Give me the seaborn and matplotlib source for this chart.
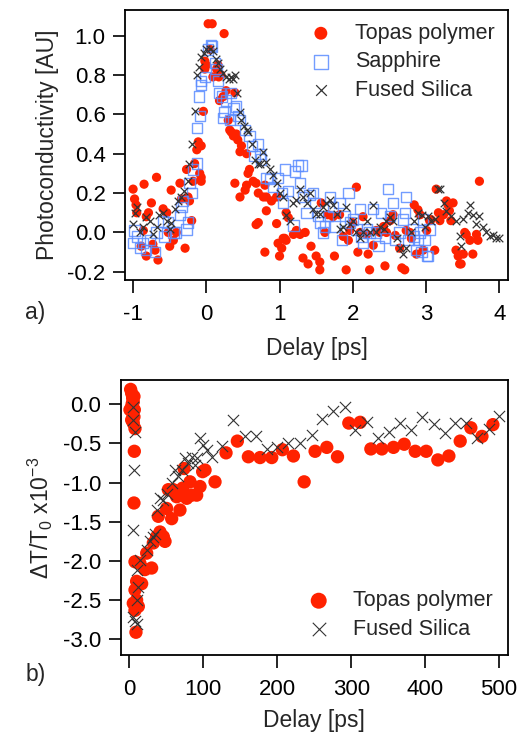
import matplotlib
matplotlib.use("Agg")
import matplotlib.pyplot as plt
import numpy as np
import pandas as pd
import seaborn as sns

# ---- panel a) data : photoconductivity vs delay [ps]
topas_a_x = [-1.00, -0.98, -0.96, -0.95, -0.89, -0.86, -0.85, -0.82, -0.82, -0.79, -0.75, -0.73, -0.70, -0.68,
             -0.66, -0.59, -0.54, -0.52, -0.50, -0.48, -0.45, -0.41, -0.36, -0.34, -0.29, -0.27, -0.25, -0.23,
             -0.20, -0.18, -0.16, -0.13, -0.11, -0.09, -0.07, -0.07, -0.07, -0.04, -0.02, -0.02, 0.00, 0.025,
             0.05, 0.08, 0.09, 0.14, 0.16, 0.18, 0.23, 0.243, 0.27, 0.30, 0.32, 0.34, 0.37, 0.39, 0.39, 0.41,
             0.43, 0.46, 0.46, 0.48, 0.53, 0.55, 0.55, 0.57, 0.59, 0.64, 0.68, 0.68, 0.71, 0.71, 0.78, 0.80,
             0.80, 0.82, 0.82, 0.89, 0.96, 0.96, 0.98, 1.00, 1.03, 1.05, 1.07, 1.09, 1.09, 1.12, 1.19, 1.23,
             1.25, 1.28, 1.32, 1.35, 1.39, 1.43, 1.50, 1.55, 1.55, 1.57, 1.62, 1.66, 1.73, 1.75, 1.82, 1.87,
             1.91, 1.94, 1.96, 2.00, 2.05, 2.07, 2.10, 2.14, 2.19, 2.21, 2.23, 2.28, 2.32, 2.37, 2.42, 2.44,
             2.46, 2.51, 2.55, 2.58, 2.64, 2.67, 2.71, 2.73, 2.78, 2.80, 2.84, 2.87, 2.89, 2.92, 2.96, 3.01,
             3.05, 3.07, 3.12, 3.14, 3.17, 3.19, 3.24, 3.28, 3.30, 3.32, 3.34, 3.37, 3.41, 3.44, 3.46, 3.48,
             3.51, 3.53, 3.55, 3.60, 3.64, 3.69, 3.71, 3.73, 0.17, 0.20]
topas_a_y = [0.22, 0.17, 0.14, 0.10, -0.07, 0.01, 0.245, 0.08, -0.12, 0.10, 0.15, -0.06, -0.09, 0.28,
             -0.14, 0.12, 0.10, 0.00, -0.07, 0.215, -0.04, 0.00, 0.25, 0.17, -0.08, 0.32, 0.18, 0.16,
             0.06, 0.26, 0.35, 0.42, 0.46, 0.30, 0.44, 0.28, 0.26, 0.615, 0.87, 0.83, 0.85, 1.06,
             0.93, 1.06, 0.79, 0.83, 0.85, 0.67, 0.69, 1.01, 0.72, 0.57, 0.52, 0.51, 0.49, 0.71, 0.25, 0.50,
             0.47, 0.41, 0.18, 0.44, 0.215, 0.40, 0.24, 0.30, 0.32, 0.26, 0.25, 0.04, 0.20, 0.05, 0.18, 0.24,
             -0.10, 0.11, 0.18, 0.16, 0.18, 0.045, -0.055, -0.12, -0.08, -0.03, -0.03, -0.04, 0.10, 0.075, -0.01, 0.01,
             0.00, -0.01, -0.13, 0.00, -0.16, -0.07, -0.12, -0.15, -0.19, 0.15, 0.00, 0.09, 0.08, -0.12, 0.09, -0.02,
             -0.19, -0.04, 0.01, 0.05, 0.23, -0.10, 0.00, 0.08, -0.01, -0.11, -0.19, -0.065, 0.01, 0.00, 0.03, -0.17,
             0.00, 0.06, 0.09, -0.015, -0.08, -0.18, -0.19, 0.01, 0.00, -0.03, 0.14, -0.11, 0.115, 0.09, -0.09, 0.01,
             0.06, 0.065, -0.09, 0.22, 0.10, 0.06, 0.09, 0.16, 0.14, 0.11, 0.06, 0.15, -0.09, -0.12, -0.16, -0.16,
             -0.11, 0.00, -0.01, -0.04, -0.11, -0.01, -0.04, 0.26, 0.79, 0.80]

sapphire_x = [-1.00, -0.98, -0.95, -0.91, -0.86, -0.82, -0.77, -0.70, -0.68, -0.59, -0.57, -0.52, -0.45, -0.41,
              -0.36, -0.34, -0.32, -0.27, -0.25, -0.23, -0.20, -0.18, -0.13, -0.13, -0.10, -0.09, -0.07, -0.07,
              -0.02, 0.025, 0.06, 0.08, 0.12, 0.14, 0.16, 0.18, 0.21, 0.23, 0.25, 0.27, 0.32, 0.34, 0.37, 0.41,
              0.43, 0.46, 0.53, 0.59, 0.62, 0.66, 0.71, 0.73, 0.75, 0.82, 0.87, 0.91, 0.98, 1.03, 1.05, 1.07,
              1.12, 1.19, 1.21, 1.25, 1.30, 1.28, 1.32, 1.37, 1.41, 1.46, 1.48, 1.53, 1.55, 1.59, 1.62, 1.66,
              1.69, 1.73, 1.75, 1.82, 1.85, 1.89, 1.94, 1.96, 2.00, 2.05, 2.10, 2.12, 2.14, 2.19, 2.23, 2.28,
              2.32, 2.35, 2.39, 2.44, 2.48, 2.51, 2.55, 2.58, 2.64, 2.69, 2.71, 2.73, 2.76, 2.82, 2.84, 2.87,
              2.89, 2.92, 2.94, 2.96, 2.98, 3.01, 3.03, 3.05]
sapphire_y = [-0.055, 0.01, -0.02, -0.08, -0.055, -0.09, -0.04, -0.10, 0.00, 0.055, -0.02, 0.05, 0.00, 0.00,
              0.09, 0.13, 0.16, 0.015, 0.05, 0.25, 0.20, 0.32, 0.35, 0.53, 0.69, 0.59, 0.77, 0.75,
              0.79, 0.93, 0.95, 0.945, 0.86, 0.83, 0.77, 0.71, 0.69, 0.58, 0.61, 0.67, 0.57, 0.71, 0.63, 0.64,
              0.59, 0.57, 0.52, 0.49, 0.44, 0.39, 0.45, 0.40, 0.37, 0.275, 0.27, 0.23, 0.275, 0.20, 0.15, 0.32,
              0.21, 0.035, 0.31, 0.34, 0.34, 0.25, 0.18, 0.10, 0.19, 0.20, 0.15, 0.085, 0.05, 0.00, 0.03, 0.085,
              0.18, 0.13, 0.03, 0.15, -0.04, 0.085, 0.20, 0.05, 0.065, 0.015, 0.12, -0.02, -0.055, 0.015, 0.00, 0.12,
              0.00, -0.07, 0.10, -0.03, 0.22, 0.085, 0.15, -0.04, 0.00, 0.065, 0.10, 0.18, -0.04, 0.015, -0.02, -0.09,
              -0.04, 0.00, -0.10, 0.065, -0.04, -0.12, -0.12, 0.015]

silica_a_x = [-1.00, -0.98, -0.95, -0.91, -0.86, -0.82, -0.77, -0.73, -0.68, -0.64, -0.59, -0.54, -0.50, -0.48,
              -0.43, -0.39, -0.34, -0.30, -0.25, -0.23, -0.20, -0.16, -0.13, -0.10, -0.07, -0.03, 0.00, 0.05,
              0.09, 0.13, 0.16, 0.19, 0.23, 0.27, 0.31, 0.34, 0.37, 0.39, 0.42, 0.46, 0.48, 0.52, 0.55, 0.57,
              0.62, 0.66, 0.71, 0.73, 0.78, 0.82, 0.87, 0.91, 0.96, 1.00, 1.05, 1.09, 1.14, 1.19, 1.23, 1.28,
              1.32, 1.37, 1.41, 1.46, 1.50, 1.55, 1.59, 1.64, 1.69, 1.73, 1.78, 1.82, 1.87, 1.91, 1.96, 2.00,
              2.05, 2.10, 2.14, 2.19, 2.23, 2.28, 2.32, 2.37, 2.42, 2.46, 2.51, 2.55, 2.60, 2.64, 2.69, 2.73,
              2.80, 2.84, 2.89, 2.94, 2.98, 3.03, 3.07, 3.12, 3.17, 3.19, 3.24, 3.28, 3.34, 3.41, 3.46, 3.48,
              3.51, 3.57, 3.60, 3.64, 3.69, 3.73, 3.78, 3.82, 3.87, 3.91, 3.96, 4.00]
silica_a_y = [0.045, 0.10, 0.13, 0.00, 0.03, 0.08, 0.06, -0.01, 0.03, 0.09, 0.10, 0.06, 0.015, 0.05,
              0.12, 0.16, 0.18, 0.21, 0.26, 0.35, 0.45, 0.615, 0.80, 0.84, 0.89, 0.91, 0.93, 0.93,
              0.92, 0.88, 0.86, 0.83, 0.81, 0.79, 0.78, 0.79, 0.78, 0.80, 0.71, 0.61, 0.57, 0.54, 0.52, 0.51,
              0.45, 0.37, 0.35, 0.35, 0.41, 0.36, 0.32, 0.29, 0.25, 0.20, 0.18, 0.09, 0.06, 0.15, 0.165, 0.22,
              0.18, 0.15, 0.20, 0.12, 0.095, 0.095, 0.13, 0.15, 0.165, 0.14, 0.095, 0.015, 0.03, 0.13, 0.045, 0.06,
              0.00, -0.03, 0.00, 0.06, 0.00, 0.14, 0.00, 0.03, 0.015, 0.06, 0.08, 0.06, -0.03, -0.08, -0.11, -0.08,
              0.00, 0.06, 0.10, 0.09, 0.03, 0.085, 0.06, 0.07, 0.22, 0.22, 0.15, 0.11, 0.085, 0.06, -0.02, -0.07,
              0.07, 0.10, 0.14, 0.09, 0.045, 0.085, 0.03, 0.00, -0.02, -0.015, -0.03, -0.03]

# ---- panel b) data : dT/T0 (x1e-3) vs delay [ps]
topas_b_x = [1.8, 3.2, 4.5, 5.4, 6.3, 4.0, 3.2, 6.8, 0.9, 4.5, 6.3, 3.2, 5.4, 7.7,
             6.8, 6.3, 7.7, 14.4, 9.9, 16.7, 7.7, 9.9, 5.4, 7.7, 12.2, 9.0,
             21.2, 23.5, 30.2, 32.5, 37.0, 39.2, 41.5, 46.0, 48.3, 50.5, 52.8, 57.3, 59.5, 64.0,
             68.5, 72.2, 74.0, 77.6, 82.1, 84.4, 91.1, 95.6, 99.2, 102.4, 115.9, 130.8, 146.1, 161.0,
             176.8, 192.6, 207.0, 221.9, 236.4, 251.2, 267.0, 281.5, 296.8, 312.1, 326.6, 341.5, 357.2,
             371.7, 386.6, 401.4, 417.2, 432.1, 447.4, 461.8, 476.8, 491.6]
topas_b_y = [0.19, 0.14, 0.08, 0.03, 0.10, 0.01, -0.03, -0.07, -0.07, -0.11, -0.16, -0.20, -0.24, -0.31,
             -0.60, -1.26, -2.01, -2.03, -2.26, -2.29, -2.37, -2.50, -2.54, -2.63, -2.58, -2.91,
             -2.11, -1.90, -2.09, -1.77, -1.69, -1.43, -1.63, -1.69, -1.75, -1.33, -1.09, -1.46, -1.09, -1.18,
             -1.35, -1.07, -0.82, -1.20, -0.99, -1.16, -1.16, -1.05, -0.86, -0.84, -0.99, -0.62, -0.47, -0.67,
             -0.68, -0.68, -0.58, -0.66, -0.99, -0.60, -0.55, -0.67, -0.24, -0.23, -0.57, -0.57, -0.55,
             -0.51, -0.60, -0.60, -0.71, -0.66, -0.47, -0.30, -0.41, -0.26]

silica_b_x = [4.5, 5.4, 7.7, 6.8, 5.4, 9.9, 12.2, 9.9, 5.4, 7.7, 10.8, 14.4,
              23.5, 27.9, 32.5, 34.7, 37.0, 41.5, 46.0, 50.5, 57.3, 61.8, 66.3, 70.8, 75.3, 79.8,
              84.4, 88.8, 91.1, 95.6, 99.2, 104.6, 111.4, 124.9, 140.7, 156.5, 171.4, 185.8, 199.4,
              215.2, 231.0, 246.7, 260.3, 276.0, 291.8, 305.4, 321.2, 335.6, 350.5, 366.3, 381.2,
              395.6, 411.4, 426.3, 440.7, 455.6, 470.0, 485.8, 500.2]
silica_b_y = [-0.03, -0.20, -0.35, -0.84, -1.60, -2.11, -2.33, -2.50, -2.71, -2.77, -2.80, -1.99,
              -1.86, -1.75, -1.69, -1.65, -1.35, -1.20, -1.22, -1.14, -1.01, -0.84, -0.92, -0.84, -0.69, -0.75,
              -0.67, -0.77, -0.69, -0.43, -0.52, -0.58, -0.67, -0.53, -0.20, -0.41, -0.40, -0.57, -0.54,
              -0.49, -0.49, -0.39, -0.19, -0.09, -0.04, -0.33, -0.23, -0.43, -0.36, -0.24, -0.33,
              -0.16, -0.25, -0.37, -0.24, -0.24, -0.43, -0.32, -0.15]

red = "#ff2200"
blue = "#5b8cff"
grey = "#333333"

sns.set_style("ticks")
plt.rcParams["font.family"] = ["Liberation Sans", "DejaVu Sans"]
plt.rcParams["mathtext.fontset"] = "custom"
plt.rcParams["mathtext.rm"] = "Liberation Sans"
plt.rcParams["mathtext.it"] = "Liberation Sans"

fig = plt.figure(figsize=(5.21, 7.39), dpi=100)
ax1 = fig.add_axes([0.240, 0.621, 0.735, 0.3655])
ax2 = fig.add_axes([0.2317, 0.1137, 0.7433, 0.3721])

df_ta = pd.DataFrame({"x": topas_a_x, "y": topas_a_y})
df_sa = pd.DataFrame({"x": sapphire_x, "y": sapphire_y})
df_fa = pd.DataFrame({"x": silica_a_x, "y": silica_a_y})

sns.scatterplot(data=df_ta, x="x", y="y", ax=ax1, color=red, s=44, edgecolor="none",
                linewidth=0, label="Topas polymer")
sns.scatterplot(data=df_sa, x="x", y="y", ax=ax1, marker="s", color=blue, s=55,
                edgecolor=blue, linewidth=1.0, alpha=0.85, label="Sapphire")
ax1.collections[-1].set_facecolor("none")
sns.scatterplot(data=df_fa, x="x", y="y", ax=ax1, marker="x", color=grey, s=30,
                linewidth=0.9, label="Fused Silica")

ax1.set_xlim(-1.11, 4.12)
ax1.set_ylim(-0.242, 1.13)
ax1.set_xticks([-1, 0, 1, 2, 3, 4])
ax1.set_yticks([-0.2, 0.0, 0.2, 0.4, 0.6, 0.8, 1.0])
ax1.set_yticklabels(["-0.2", "0.0", "0.2", "0.4", "0.6", "0.8", "1.0"])
ax1.set_xticklabels(["-1", "0", "1", "2", "3", "4"])
ax1.set_xlabel("Delay [ps]", fontsize=16.5, labelpad=9)
ax1.set_ylabel("Photoconductivity [AU]", fontsize=16.5, labelpad=6)
ax1.legend(loc="upper right", frameon=False, fontsize=15.5, markerscale=1.4,
           handlelength=1.2, handletextpad=1.0, labelspacing=0.35, borderaxespad=0.2)

df_tb = pd.DataFrame({"x": topas_b_x, "y": topas_b_y})
df_fb = pd.DataFrame({"x": silica_b_x, "y": silica_b_y})
sns.scatterplot(data=df_tb, x="x", y="y", ax=ax2, color=red, s=92, edgecolor="none",
                linewidth=0, label="Topas polymer")
sns.scatterplot(data=df_fb, x="x", y="y", ax=ax2, marker="x", color=grey, s=65,
                linewidth=0.8, label="Fused Silica")
ax2.set_xlim(-11.6, 512)
ax2.set_ylim(-3.2, 0.31)
ax2.set_xticks([0, 100, 200, 300, 400, 500])
ax2.set_yticks([0.0, -0.5, -1.0, -1.5, -2.0, -2.5, -3.0])
ax2.set_yticklabels(["0.0", "-0.5", "-1.0", "-1.5", "-2.0", "-2.5", "-3.0"])
ax2.set_xlabel("Delay [ps]", fontsize=16.5, labelpad=7)
ax2.set_ylabel(r"$\Delta$T/T$_0$ x10$^{-3}$", fontsize=16.5, labelpad=6)
ax2.legend(loc="lower right", frameon=False, fontsize=15.5, markerscale=1.2,
           handlelength=1.2, handletextpad=1.0, labelspacing=0.35, borderaxespad=0.3)

for ax in (ax1, ax2):
    for sp in ax.spines.values():
        sp.set_linewidth(1.3)
        sp.set_color("black")
    ax.tick_params(direction="out", length=9, width=1.2, labelsize=16, colors="black")
    ax.tick_params(axis="x", pad=8)
    ax.tick_params(axis="y", pad=5)

fig.text(0.048, 0.577, "a)", fontsize=16.5, va="center")
fig.text(0.050, 0.087, "b)", fontsize=16.5, va="center")

fig.savefig("out.png", dpi=100)
